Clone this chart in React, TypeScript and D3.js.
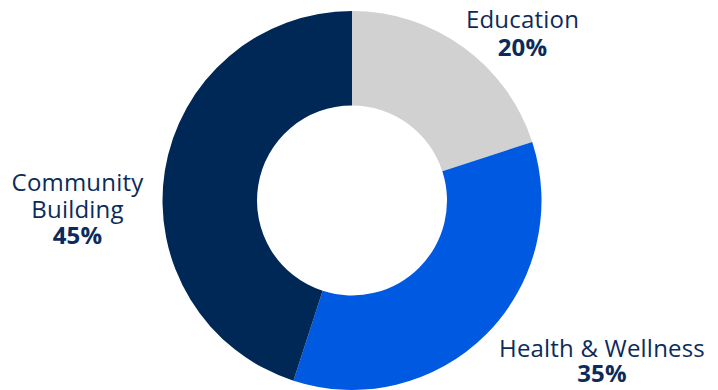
import React from "react";
import * as d3 from "d3";

const categories = ["Education", "Health & Wellness", "Community Building"];
const values = [20, 35, 45];
const colors = ["#d1d1d1", "#0059e1", "#002856"];
const labelLines = [["Education"], ["Health & Wellness"], ["Community", "Building"]];

const W = 718;
const H = 390;
const cx = 352;
const cy = 200.5;
const outerR = 189.5;
const innerR = 95;
const textColor = "#0c2b5a";
const font = "'Open Sans', 'Noto Sans', sans-serif";

// label anchor positions (center x, baseline y of first line, line step)
const labelPos: [number, number, number][] = [
  [522.5, 28.3, 27.5],
  [602, 357.3, 24.5],
  [77.5, 190.7, 26.8],
];

export default function App() {
  const pie = d3.pie<number>().sort(null).value((d) => d)(values);
  const arc = d3.arc<d3.PieArcDatum<number>>().innerRadius(innerR).outerRadius(outerR);
  return (
    <svg width={W} height={H} style={{ position: "absolute", left: 0, top: 0 }}>
      <g transform={`translate(${cx},${cy})`}>
        {pie.map((p, i) => (
          <path key={i} d={arc(p) || ""} fill={colors[i]} />
        ))}
      </g>
      {categories.map((c, i) => {
        const [x, y, dy] = labelPos[i];
        const lines = labelLines[i];
        return (
          <g key={c} fill={textColor} fontFamily={font} fontSize={24} textAnchor="middle" letterSpacing={0.2}>
            {lines.map((l, j) => (
              <text key={j} x={x} y={y + j * dy}>
                {l}
              </text>
            ))}
            <text x={x} y={y + lines.length * dy} fontWeight={700}>
              {values[i]}%
            </text>
          </g>
        );
      })}
    </svg>
  );
}
